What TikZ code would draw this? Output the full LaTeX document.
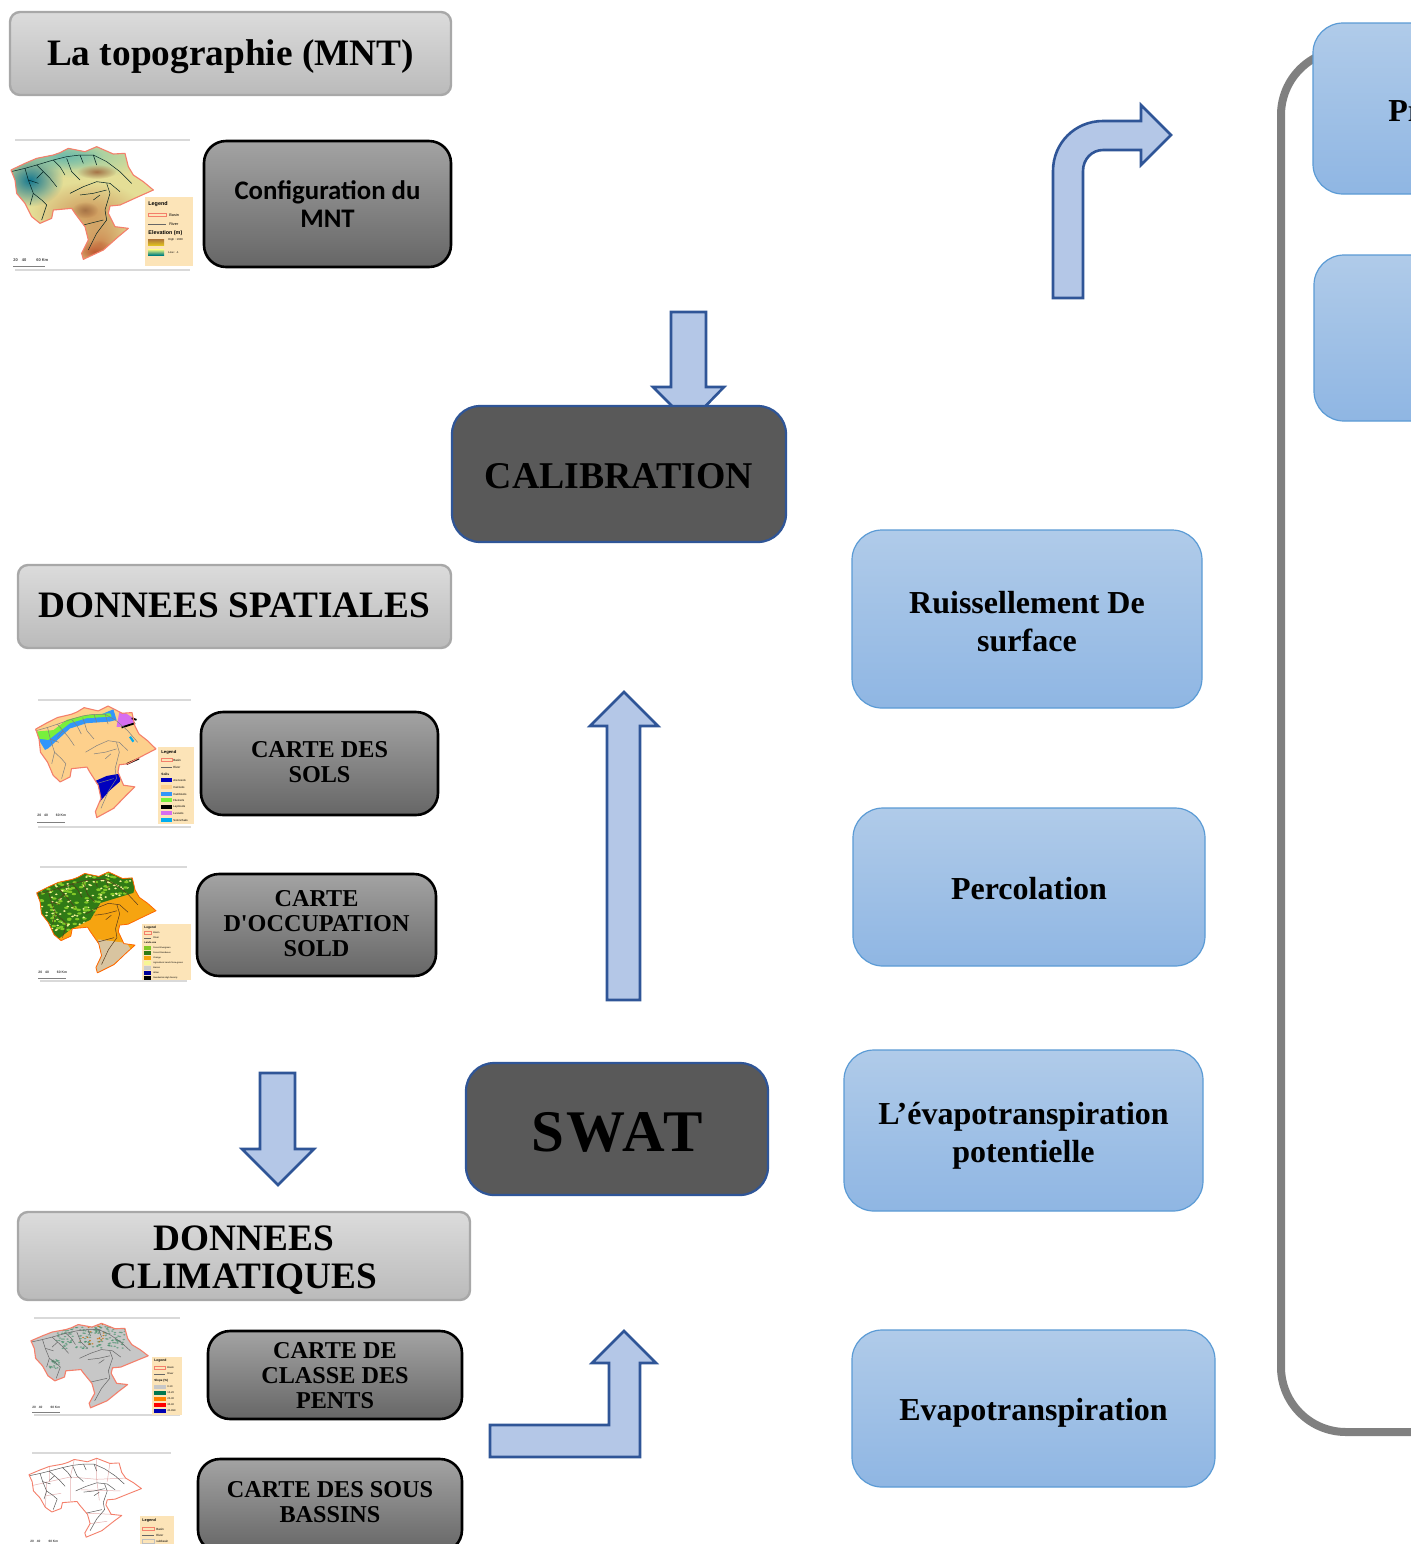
\documentclass[tikz,border=0pt]{standalone}
\usepackage{fontspec}
\setmainfont{Liberation Serif}
\newfontfamily\serifraw{Liberation Serif}
\newfontfamily\calibfont{Carlito}
\newfontfamily\lgfont{Liberation Sans}
\usetikzlibrary{fadings}
\tikzfading[name=softblob,inner color=transparent!0,outer color=transparent!100]
\definecolor{arrowfill}{HTML}{B4C7E7}
\definecolor{arrowline}{HTML}{2F5597}
\definecolor{basinred}{HTML}{F47F6B}
\definecolor{legbg}{HTML}{FCE4B8}
\definecolor{bluetop}{RGB}{176,203,233}
\definecolor{bluebot}{RGB}{143,182,227}
\definecolor{blueedge}{RGB}{91,155,213}
\newcommand{\fs}[2]{\fontsize{#1}{#2}\selectfont}
\newcommand{\titlefont}{\bfseries\fs{18.65}{19}}
\newcommand{\darkfont}{\bfseries\fs{12.1}{12.5}}
\newcommand{\bluefont}{\bfseries\fs{16}{19}}
\tikzset{
 boxbase/.style={rounded corners=#1,anchor=north west,inner sep=0pt,outer sep=0pt},
 titlebox/.style={boxbase=5pt,top color=black!14,bottom color=black!27,draw=black!34,line width=1.2pt},
 darkbox/.style={boxbase=11pt,top color=black!36,bottom color=black!60,draw=black,line width=1.3pt},
 corebox/.style={boxbase=14pt,fill=black!65,draw=arrowline,line width=1.1pt},
 bluebox/.style={boxbase=15pt,top color=bluetop,bottom color=bluebot,draw=blueedge,line width=.6pt},
 blockarrow/.style={fill=arrowfill,draw=arrowline,line width=1.3pt,line join=miter},
 maprule/.style={draw=black!15,line width=.8pt},
 basinline/.style={draw=basinred,line width=.55pt,line join=round},
 riverline/.style={line width=.3pt,line join=round},
 lgtext/.style={anchor=west,inner sep=0pt,font=\lgfont\fs{1.9}{2}},
 lghead/.style={anchor=west,inner sep=0pt,font=\lgfont\bfseries\fs{2.7}{3}},
 scaletext/.style={anchor=west,inner sep=0pt,font=\lgfont\bfseries\fs{2}{2},text=black!75},
 mapA/.style={shift={(0,130)},x=0.16667pt,y=-0.16667pt},
 mapB/.style={shift={(26.4,689.5)},x=0.1408pt,y=-0.165pt},
 mapC/.style={shift={(27.5,857)},x=0.1397pt,y=-0.1493pt},
 mapD/.style={shift={(21.9,1310.8)},x=0.1373pt,y=-0.125pt},
 mapE/.style={shift={(20.3,1446.6)},x=0.1317pt,y=-0.1167pt},
}
% \bx[style]{name}{x1}{y1}{x2}{y2}{text shift down, px}{font}{text} -- 8 args, text given after as next group
\newcommand{\bx}[8][]{%
 \pgfmathsetmacro{\bxw}{(#5-#3)*0.5}\pgfmathsetmacro{\bxh}{(#6-#4)*0.5}%
 \pgfmathsetmacro{\bxd}{-(#7)*0.5}%
 \node[#1,minimum width=\bxw pt,minimum height=\bxh pt] (#2) at (#3,#4) {};
 \bxtext{#2}{#8}}
\newcommand{\bxtext}[3]{\node[align=center,inner sep=0pt,font=#2] (#1text) at ([yshift=\bxd pt]#1.center) {#3};}
\newcommand{\basinpath}{(33,120) -- (75,100) -- (110,85) -- (160,75) -- (180,68) -- (205,55) -- (255,65) -- (290,50) -- (340,72) -- (375,70) -- (385,110) -- (400,135) -- (430,155) -- (460,180) -- (415,200) -- (360,225) -- (330,228) -- (325,250) -- (345,290) -- (385,295) -- (355,320) -- (310,360) -- (250,388) -- (245,370) -- (265,330) -- (255,290) -- (225,250) -- (215,235) -- (160,240) -- (155,265) -- (120,280) -- (95,260) -- (75,220) -- (50,190) -- (45,150) -- cycle}
\newcommand{\rivers}[2][.25pt]{%
 \draw[riverline,line width=#1,draw=#2] (33,125) -- (75,115) -- (110,105) -- (160,90) -- (200,80) -- (240,75) -- (280,75) -- (320,95) -- (360,125) -- (395,160);
 \draw[riverline,line width=#1,draw=#2] (110,105) -- (130,125) -- (150,145) -- (170,170);
 \draw[riverline,line width=#1,draw=#2] (75,115) -- (85,150) -- (100,190) -- (90,225);
 \draw[riverline,line width=#1,draw=#2] (100,190) -- (125,210) -- (140,225) -- (125,270);
 \draw[riverline,line width=#1,draw=#2] (210,190) -- (250,170) -- (290,155) -- (330,160) -- (360,185);
 \draw[riverline,line width=#1,draw=#2] (240,195) -- (280,190) -- (320,180);
 \draw[riverline,line width=#1,draw=#2] (320,160) -- (330,190) -- (315,240) -- (320,270) -- (290,310) -- (265,360);
 \draw[riverline,line width=#1,draw=#2] (250,285) -- (310,270);
 \draw[riverline,line width=#1,draw=#2] (200,85) -- (215,125) -- (240,150);
 \draw[riverline,line width=#1,draw=#2] (280,210) -- (300,195);
 \draw[riverline,line width=#1,draw=#2] (160,90) -- (180,110) -- (195,135);
 \draw[riverline,line width=#1,draw=#2] (240,75) -- (250,100);
 \draw[riverline,line width=#1,draw=#2] (280,75) -- (290,105);
 \draw[riverline,line width=#1,draw=#2] (130,125) -- (110,145);
 \draw[riverline,line width=#1,draw=#2] (85,150) -- (115,160);
}
\newcommand{\lgbasin}[3]{%
 \draw[draw=basinred,line width=.4pt] (#1,#2-1.8) rectangle ++(#3,3.6);}
\newcommand{\lgriver}[3]{%
 \draw[draw=black!60,line width=.25pt] (#1,#2) -- ++(#3,0);}
\definecolor{soilA}{RGB}{0,0,190}
\definecolor{soilB}{RGB}{253,208,140}
\definecolor{soilC}{RGB}{50,150,250}
\definecolor{soilD}{RGB}{120,240,60}
\definecolor{soilE}{RGB}{214,110,240}
\definecolor{luA}{RGB}{130,200,40}
\definecolor{luB}{RGB}{48,122,22}
\definecolor{luC}{RGB}{246,164,16}
\definecolor{luD}{RGB}{246,246,150}
\definecolor{luE}{RGB}{216,196,160}
\definecolor{slA}{RGB}{60,140,100}
\definecolor{slB}{RGB}{0,120,80}
\definecolor{elA}{RGB}{228,222,150}
\definecolor{elB}{RGB}{150,205,165}
\definecolor{elC}{RGB}{20,120,145}
\definecolor{elD}{RGB}{110,185,170}
\definecolor{elE}{RGB}{206,150,90}
\definecolor{elF}{RGB}{205,135,80}
\definecolor{elG}{RGB}{190,90,50}
\definecolor{elH}{RGB}{165,115,70}
\begin{document}
\begin{tikzpicture}[x=0.5pt,y=-0.5pt]
\useasboundingbox (0,0) rectangle (1411,1544);
\clip (0,0) rectangle (1411,1544);
\fill[white] (0,0) rectangle (1411,1544);

% outer grey frame
\draw[draw=black!50,line width=4pt,rounded corners=32.5pt] (1281,50) rectangle (1640,1432);

% block arrows (drawn below the boxes they run into)
\draw[blockarrow] (1053,298) -- (1053,171) .. controls (1053,143) and (1075,121) .. (1103,121) -- (1141,121) -- (1141,105) -- (1171,135) -- (1141,165) -- (1141,150) -- (1103,150) .. controls (1092,150) and (1083,159) .. (1083,171) -- (1083,298) -- cycle;
\draw[blockarrow] (671,312) -- (706,312) -- (706,387) -- (724,387) -- (689,423) -- (653,387) -- (671,387) -- cycle;
\draw[blockarrow] (607,1000) -- (607,726) -- (590,726) -- (624,692) -- (658,726) -- (640,726) -- (640,1000) -- cycle;
\draw[blockarrow] (260,1073) -- (295,1073) -- (295,1149) -- (314,1149) -- (278,1185) -- (242,1149) -- (260,1149) -- cycle;
\draw[blockarrow] (490,1425) -- (609,1425) -- (609,1363) -- (592,1363) -- (624,1331) -- (656,1363) -- (640,1363) -- (640,1457) -- (490,1457) -- cycle;

% titles
\bx[titlebox]{topo}{10}{12}{451}{95}{3}{\titlefont}{La topographie (MNT)}
\bx[titlebox]{spatial}{18}{565}{451}{648}{-1}{\titlefont}{DONNEES SPATIALES}
\bx[titlebox]{clim}{18}{1212}{470}{1300}{4}{\titlefont}{DONNEES\\CLIMATIQUES}

% dark boxes
\bx[darkbox]{mnt}{204}{141}{451}{267}{0}{\calibfont\bfseries\fs{13.4}{14}}{Configuration du\\MNT}
\bx[darkbox]{sols}{201}{712}{438}{815}{-1}{\darkfont}{CARTE DES\\SOLS}
\bx[darkbox]{occ}{197}{874}{436}{976}{-1}{\darkfont}{CARTE\\{\serifraw D'OCCUPATION}\\SOLD}
\bx[darkbox]{pente}{208}{1331}{462}{1419}{1}{\darkfont}{CARTE DE\\CLASSE DES\\PENTS}
\bx[darkbox]{sous}{198}{1459}{462}{1552}{-3}{\darkfont}{CARTE DES SOUS\\BASSINS}

% core boxes
\bx[corebox]{calib}{452}{406}{786}{542}{2}{\bfseries\fs{18.9}{20}}{CALIBRATION}
\bx[corebox]{swat}{466}{1063}{768}{1195}{3}{\bfseries\fs{29.5}{30}\addfontfeatures{LetterSpace=5}}{SWAT}

% blue boxes
\bx[bluebox]{ruis}{852}{530}{1202}{708}{3}{\bluefont}{Ruissellement De\\surface}
\bx[bluebox]{perc}{853}{808}{1205}{966}{2}{\bluefont}{Percolation}
\bx[bluebox]{etp}{844}{1050}{1203}{1211}{5}{\bluefont}{L’évapotranspiration\\potentielle}
\bx[bluebox]{evap}{852}{1330}{1215}{1487}{4}{\bluefont}{Evapotranspiration}
\bx[bluebox]{prbox}{1313}{23}{1640}{194}{0}{\bluefont}{}
\bx[bluebox]{blank}{1314}{255}{1640}{421}{0}{\bluefont}{}
\node[anchor=west,inner sep=0pt,font=\bluefont] (prtext) at (1388,111) {Pr};

% ---- map rules
\draw[maprule] (15,140) -- (190,140) (15,270) -- (190,270);
\draw[maprule] (38,700) -- (191,700) (38,827) -- (191,827);
\draw[maprule] (40,867) -- (187,867) (40,981) -- (187,981);
\draw[maprule] (34,1318) -- (180,1318) (34,1415) -- (180,1415);
\draw[maprule] (32,1453) -- (171,1453);

% ---- map 1 : elevation
\begin{scope}[mapA]
 \begin{scope}
  \clip \basinpath;
  \fill[elA] (0,30) rectangle (480,400);
  \fill[elB,path fading=softblob] (240,75) ellipse (240 and 70);
  \fill[elC,path fading=softblob] (90,150) ellipse (100 and 80);
  \fill[elD,path fading=softblob] (190,80) ellipse (120 and 40);
  \fill[elE,path fading=softblob] (265,250) ellipse (170 and 95);
  \fill[elF,path fading=softblob] (300,340) ellipse (100 and 80);
  \fill[elG,path fading=softblob] (285,365) ellipse (70 and 35);
  \fill[elH,path fading=softblob] (290,125) ellipse (60 and 22);
  \fill[elH,path fading=softblob] (255,240) ellipse (40 and 25);
 \end{scope}
 \rivers{black!75!teal}
 \draw[basinline] \basinpath;
\end{scope}
\fill[legbg] (145,197) rectangle (193,266);
\node[lghead] at (148,204) {Legend};
\lgbasin{148}{215}{18}\node[lgtext] at (169,215) {Basin};
\lgriver{148}{224}{18}\node[lgtext] at (169,224) {River};
\node[lghead] at (148,233) {Elevation (m)};
\shade[top color=brown!90!black,bottom color=yellow!50!brown] (148,239) rectangle (164,245);
\node[lgtext,font=\lgfont\fs{1.4}{2}] at (168,240) {High : 1600};
\shade[top color=yellow!50!white,bottom color=teal] (148,249) rectangle (164,255);
\node[lgtext,font=\lgfont\fs{1.4}{2}] at (168,253) {Low : -1};
\node[scaletext] at (13,260) {20\hspace{2pt}40\hspace{5pt}60 Km};
\draw[draw=black!50,line width=.25pt] (13,266) -- (45,266);

% ---- map 2 : soils
\begin{scope}[mapB]
 \begin{scope}
  \clip \basinpath;
  \fill[soilB] (0,30) rectangle (480,400);
  \fill[soilC] (37,143) -- (66,183) -- (78,178) -- (155,118) -- (214,102) -- (297,97) -- (320,92) -- (309,60) -- (261,77) -- (184,87) -- (131,102) -- (84,138) -- cycle;
  \fill[soilD] (25,128) -- (37,148) -- (78,153) -- (155,102) -- (214,87) -- (303,82) -- (297,72) -- (214,77) -- (143,92) -- (96,123) -- cycle;
  \fill[soilE] (320,113) -- (332,60) -- (380,87) -- (390,102) -- (332,113) -- cycle;
  \fill[soilA] (240,279) -- (285,262) -- (338,254) -- (332,279) -- (297,305) -- (261,340) -- (252,315) -- cycle;
 \end{scope}
 \draw[line width=.9pt,black] (338,115) -- (386,102) (374,87) -- (391,92) (356,226) -- (400,209);
 \draw[line width=1.1pt,cyan] (368,143) -- (380,158);
 \rivers{black!50}
 \draw[basinline] \basinpath;
\end{scope}
\fill[legbg] (158,747) rectangle (194,824);
\node[lghead,font=\lgfont\bfseries\fs{2.1}{2}] at (161,752) {Legend};
\lgbasin{161}{760}{11}\node[lgtext,font=\lgfont\fs{1.5}{2}] at (173,760) {Basin};
\lgriver{161}{767}{11}\node[lgtext,font=\lgfont\fs{1.5}{2}] at (173,767) {River};
\node[lghead,font=\lgfont\bfseries\fs{1.6}{2}] at (161,774) {Soils};
\foreach \yy/\cc/\lbl in {780/soilA/Arenosols,787/soilB/Calcisols,794/soilC/Cambisols,800/soilD/Fluvisols,807/black/Leptosols,813/soilE/Luvisols,820/cyan/Solonchaks}{
 \fill[\cc] (161,\yy-2.3) rectangle (172,\yy+2.3);
 \node[lgtext,font=\lgfont\fs{1.4}{2}] at (173,\yy) {\lbl};
}
\node[scaletext,font=\lgfont\bfseries\fs{1.7}{2}] at (37,815) {20\hspace{1.5pt}40\hspace{4pt}60 Km};
\draw[draw=black!50,line width=.25pt] (37,822) -- (65,822);

% ---- map 3 : land use
\begin{scope}[mapC]
 \begin{scope}
  \clip \basinpath;
  \fill[luC] (0,30) rectangle (480,400);
  \fill[luE] (254,276) -- (355,288) -- (370,310) -- (300,365) -- (240,392) -- cycle;
  \clip (20,40) -- (400,40) -- (379,120) -- (261,154) -- (225,210) -- (153,243) -- (93,288) -- (20,288) -- cycle;
  \fill[luB] (0,30) rectangle (480,300);
  \pgfmathsetseed{7}
  \foreach \i in {1,...,130}{
   \pgfmathsetmacro{\px}{30+random(0,340)}\pgfmathsetmacro{\py}{55+random(0,190)}
   \fill[luA] (\px,\py) ellipse (8 and 4);
   \pgfmathsetmacro{\qx}{30+random(0,340)}\pgfmathsetmacro{\qy}{55+random(0,190)}
   \fill[luD] (\qx,\qy) ellipse (5 and 3);
  }
 \end{scope}
 \rivers{black!55!brown}
 \draw[basinline,draw=orange!80!red,line width=.4pt] \basinpath;
\end{scope}
\fill[legbg] (142,924) rectangle (191,980);
\node[lghead,font=\lgfont\bfseries\fs{1.6}{2}] at (144,928) {Legend};
\lgbasin{144}{933}{7}\node[lgtext,font=\lgfont\fs{1.2}{2}] at (153,933) {Basin};
\lgriver{144}{938}{7}\node[lgtext,font=\lgfont\fs{1.2}{2}] at (153,938) {River};
\node[lghead,font=\lgfont\bfseries\fs{1.2}{2}] at (144,943) {Landa use};
\foreach \yy/\cc/\lbl in {948/luA/Forest-Evergreen,953/luB/Forest-Deciduous,958/luC/Orange,963/luD/Agricultural Land-Close-grown,968/black!20/Barren,973/blue!60!black/Water,978/black/Residential-High Density}{
 \fill[\cc] (144,\yy-1.8) rectangle (151,\yy+1.8);
 \node[lgtext,font=\lgfont\fs{1.1}{2}] at (153,\yy) {\lbl};
}
\node[scaletext,font=\lgfont\bfseries\fs{1.7}{2}] at (38,972) {20\hspace{1.5pt}40\hspace{4pt}60 Km};
\draw[draw=black!50,line width=.25pt] (38,978) -- (66,978);

% ---- map 4 : slope
\begin{scope}[mapD]
 \begin{scope}
  \clip \basinpath;
  \fill[black!22] (0,30) rectangle (480,400);
  \pgfmathsetseed{11}
  \foreach \i in {1,...,170}{
   \pgfmathsetmacro{\px}{125+random(0,250)}\pgfmathsetmacro{\py}{60+random(0,90)}
   \fill[slA,opacity=.6] (\px,\py) ellipse (5 and 3);
  }
  \foreach \i in {1,...,25}{
   \pgfmathsetmacro{\px}{100+random(0,35)}\pgfmathsetmacro{\py}{195+random(0,35)}
   \fill[slA,opacity=.6] (\px,\py) ellipse (4 and 3);
  }
  \foreach \i in {1,...,20}{
   \pgfmathsetmacro{\px}{210+random(0,90)}\pgfmathsetmacro{\py}{55+random(0,80)}
   \fill[orange!80!black,opacity=.8] (\px,\py) ellipse (4 and 2.5);
  }
 \end{scope}
 \rivers{black!60}
 \draw[basinline] \basinpath;
\end{scope}
\fill[legbg] (152,1357) rectangle (182,1415);
\node[lghead,font=\lgfont\bfseries\fs{1.7}{2}] at (154,1361) {Legend};
\lgbasin{154}{1368}{11}\node[lgtext,font=\lgfont\fs{1.3}{2}] at (167,1368) {Basin};
\lgriver{154}{1374}{11}\node[lgtext,font=\lgfont\fs{1.3}{2}] at (167,1374) {River};
\node[lghead,font=\lgfont\bfseries\fs{1.5}{2}] at (154,1381) {Slope (\%)};
\foreach \yy/\cc/\lbl in {1387/black!22/0-10,1393/slB/10-20,1399/orange/20-30,1405/red/30-40,1411/blue!70!black/40-999}{
 \fill[\cc] (154,\yy-2.3) rectangle (166,\yy+2.3);
 \node[lgtext,font=\lgfont\fs{1.3}{2}] at (167,\yy) {\lbl};
}
\node[scaletext,font=\lgfont\bfseries\fs{1.6}{2}] at (32,1407) {20\hspace{1.5pt}40\hspace{4pt}60 Km};
\draw[draw=black!50,line width=.25pt] (32,1412) -- (60,1412);

% ---- map 5 : sub-basins
\begin{scope}[mapE]
 \begin{scope}
  \clip \basinpath;
  \draw[draw=pink!80!gray,line width=.25pt] (33,170) -- (110,150) -- (110,85) (110,150) -- (190,130) -- (205,55) (190,130) -- (290,140) -- (290,50) (290,140) -- (400,135) (190,130) -- (190,235) (290,140) -- (300,230) (100,210) -- (155,200) (230,185) -- (380,190) (250,285) -- (345,290) (265,330) -- (330,320) (100,150) -- (95,260) (340,72) -- (330,150);
 \end{scope}
 \rivers[.25pt]{black!65}
 \draw[basinline,line width=.45pt] \basinpath;
\end{scope}
\fill[legbg] (140,1516) rectangle (174,1544);
\node[lghead,font=\lgfont\bfseries\fs{1.9}{2}] at (142,1521) {Legend};
\lgbasin{142}{1529}{12}\node[lgtext,font=\lgfont\fs{1.5}{2}] at (156,1529) {Basin};
\lgriver{142}{1535}{12}\node[lgtext,font=\lgfont\fs{1.5}{2}] at (156,1535) {River};
\draw[draw=black!25,line width=.2pt] (142,1539) rectangle (154,1543);
\node[lgtext,font=\lgfont\fs{1.5}{2}] at (156,1541) {subbasin};
\node[scaletext,font=\lgfont\bfseries\fs{1.6}{2}] at (30,1541) {20\hspace{1.5pt}40\hspace{4pt}60 Km};
\end{tikzpicture}
\end{document}
